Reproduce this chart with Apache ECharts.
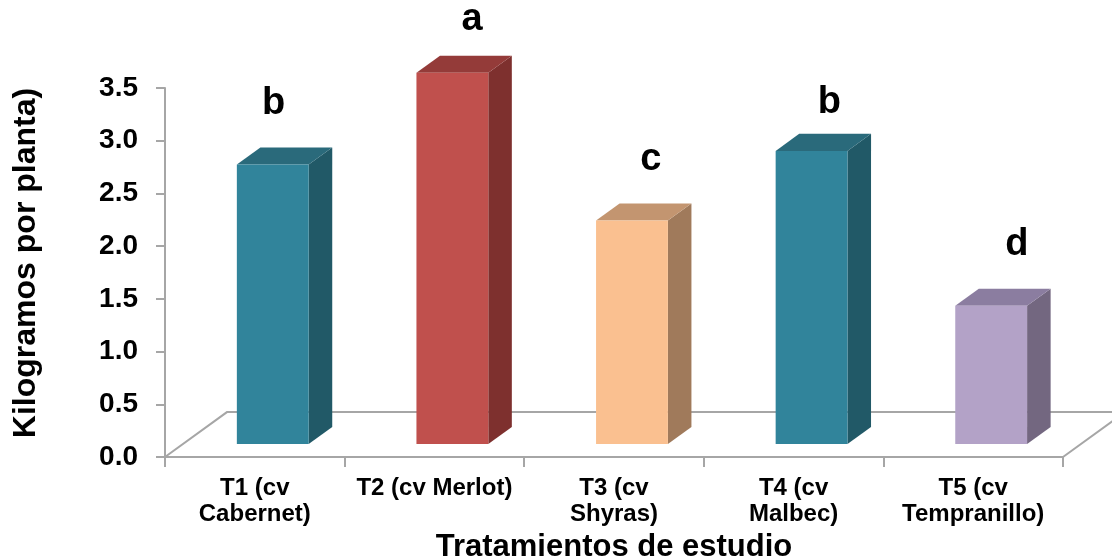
<!DOCTYPE html>
<html>
<head>
<meta charset="utf-8">
<script src="https://cdn.jsdelivr.net/npm/echarts@6/dist/echarts.min.js"></script>
<style>
  html, body { margin: 0; padding: 0; background: #ffffff; }
  #chart { width: 1112px; height: 560px; }
</style>
</head>
<body>
<div id="chart"></div>
<script>
// Treatments (grape cultivars) and mean yield per plant, kg
const categories = ['T1 (cv\nCabernet)', 'T2 (cv Merlot)', 'T3 (cv\nShyras)', 'T4 (cv\nMalbec)', 'T5 (cv\nTempranillo)'];
const yields = [2.65, 3.52, 2.12, 2.78, 1.31];
// Significance letters shown above each bar
const letters = ['b', 'a', 'c', 'b', 'd'];

// Face colours for each bar: front, side, top
const barColors = [
  { front: '#31849B', side: '#215967', top: '#2A6A7B' },
  { front: '#C0504D', side: '#7E302E', top: '#943B39' },
  { front: '#FAC090', side: '#A07A5B', top: '#C39570' },
  { front: '#31849B', side: '#215967', top: '#2A6A7B' },
  { front: '#B3A2C7', side: '#736780', top: '#8B7DA0' }
];
// Small placement tweaks for the letters, in px [dx, dy]
const letterNudge = [[-11, 0], [8, 8], [7, 0], [6, 13], [14, 0]];

const FONT = '"Liberation Sans", Arial, sans-serif';
const GRAY = '#A6A6A6';

// Oblique depth of the floor, as fractions of a category band
const FLOOR_DX = 0.345, FLOOR_DY = 0.25;
// Bar sits inside the floor depth: front plane at 29 %, depth of 38 %
const BAR_FRONT = 0.29, BAR_DEPTH = 0.38;
const BAR_WIDTH = 0.40;

const chart = echarts.init(document.getElementById('chart'));

function renderFloor(params, api) {
  const cs = params.coordSys;
  const band = api.size([1, 0])[0];
  const dx = band * FLOOR_DX, dy = band * FLOOR_DY;
  const xl = cs.x, xr = cs.x + cs.width, yb = cs.y + cs.height;
  return {
    type: 'polyline',
    shape: { points: [[xl, yb], [xl + dx, yb - dy], [xr + dx, yb - dy], [xr, yb]] },
    style: { stroke: GRAY, lineWidth: 2, fill: null },
    z2: 0
  };
}

function renderBar(params, api) {
  const idx = params.dataIndex;
  const i = api.value(0), v = api.value(1);
  const origin = api.coord([i, 0]);
  const band = api.size([1, 0])[0];
  const unit = api.size([0, 1])[1];
  const fdx = band * FLOOR_DX, fdy = band * FLOOR_DY;
  const ox = fdx * BAR_FRONT, oy = fdy * BAR_FRONT;
  const bx = fdx * BAR_DEPTH, by = fdy * BAR_DEPTH;
  const w = band * BAR_WIDTH;
  const x0 = origin[0] + ox - w / 2, x1 = x0 + w;
  const yb = origin[1] - oy, yt = yb - v * unit;
  const c = barColors[idx];
  const nudge = letterNudge[idx];
  return {
    type: 'group',
    children: [
      {
        type: 'polygon',
        shape: { points: [[x1, yb], [x1 + bx, yb - by], [x1 + bx, yt - by], [x1, yt]] },
        style: { fill: c.side }
      },
      {
        type: 'polygon',
        shape: { points: [[x0, yt], [x0 + bx, yt - by], [x1 + bx, yt - by], [x1, yt]] },
        style: { fill: c.top }
      },
      {
        type: 'rect',
        shape: { x: x0, y: yt, width: w, height: yb - yt },
        style: { fill: c.front }
      },
      {
        type: 'text',
        x: (x0 + x1) / 2 + bx / 2 + nudge[0],
        y: yt - 61 + nudge[1],
        style: {
          text: letters[idx],
          fill: '#000000',
          font: 'bold 38px ' + FONT,
          align: 'center',
          verticalAlign: 'middle'
        }
      }
    ]
  };
}

chart.setOption({
  animation: false,
  backgroundColor: '#ffffff',
  grid: { left: 165, right: 49, top: 88, bottom: 103, containLabel: false, outerBoundsMode: 'none' },
  graphic: [{
    type: 'text',
    x: 26,
    y: 263,
    rotation: Math.PI / 2,
    style: {
      text: 'Kilogramos por planta)',
      fill: '#000000',
      font: 'bold 32px ' + FONT,
      align: 'center',
      verticalAlign: 'middle'
    }
  }],
  xAxis: {
    type: 'category',
    data: categories,
    boundaryGap: true,
    name: 'Tratamientos de estudio',
    nameLocation: 'middle',
    nameGap: 73,
    nameTextStyle: { fontFamily: FONT, fontWeight: 'bold', fontSize: 31, color: '#000000' },
    axisLine: { lineStyle: { color: GRAY, width: 2 } },
    axisTick: { show: true, length: 10, lineStyle: { color: GRAY, width: 2 } },
    axisLabel: {
      interval: 0,
      margin: 18,
      fontFamily: FONT,
      fontWeight: 'bold',
      fontSize: 24,
      lineHeight: 26,
      color: '#000000'
    },
    splitLine: { show: false }
  },
  yAxis: {
    type: 'value',
    min: 0,
    max: 3.5,
    interval: 0.5,
    axisLine: { show: true, lineStyle: { color: GRAY, width: 2 } },
    axisTick: { show: true, length: 9, lineStyle: { color: GRAY, width: 2 } },
    axisLabel: {
      margin: 27,
      fontFamily: FONT,
      fontWeight: 'bold',
      fontSize: 28,
      color: '#000000',
      formatter: v => v.toFixed(1)
    },
    splitLine: { show: false }
  },
  series: [
    {
      type: 'custom',
      renderItem: renderFloor,
      data: [[0, 0]],
      silent: true,
      z: 1
    },
    {
      type: 'custom',
      renderItem: renderBar,
      data: yields.map((v, i) => [i, v]),
      z: 2
    }
  ]
});
</script>
</body>
</html>
